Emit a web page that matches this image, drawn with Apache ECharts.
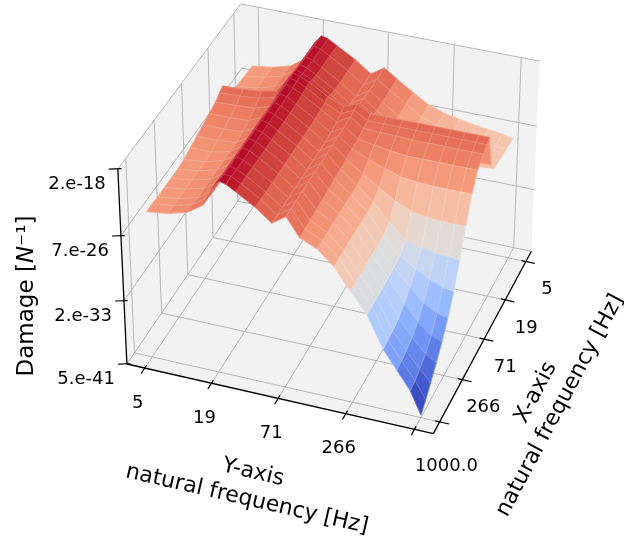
<!DOCTYPE html>
<html>
<head>
<meta charset="utf-8">
<script src="https://cdn.jsdelivr.net/npm/echarts@6/dist/echarts.min.js"></script>
<style>
  html, body { margin: 0; padding: 0; background: #fff; }
  #chart { width: 624px; height: 541px; }
</style>
</head>
<body>
<div id="chart"></div>
<script>
// ---- data ----
// grid of natural frequencies [Hz] (log spaced, denser around the ridges)
var xFreq = [5, 7.6, 11.7, 16, 19.8, 23.2, 27.2, 33.7, 46.3, 63.6, 87.4, 120, 165, 227, 312, 428, 589, 767, 1000];
var yFreq = [5, 7.6, 11.1, 15.2, 18.3, 20.9, 23.9, 28.7, 41.6, 57, 74.6, 97, 134, 184, 252, 347, 476, 621, 809, 1000];
// log10 of damage, one row per yFreq, one column per xFreq
var damageExp = [
  [-23.4, -23.3, -23.2, -23.1, -22.7, -21.0, -21.3, -21.7, -22.0, -22.3, -22.6, -22.9, -23.2, -23.3, -23.3, -23.3, -23.3, -23.2, -23.2],
  [-23.1, -23.0, -22.9, -22.8, -22.5, -20.9, -21.2, -21.6, -22.0, -22.3, -22.6, -22.9, -23.0, -23.0, -23.0, -23.0, -23.0, -22.9, -22.9],
  [-22.5, -22.4, -22.3, -22.2, -22.0, -20.7, -21.0, -21.5, -21.9, -22.2, -22.4, -22.4, -22.4, -22.4, -22.4, -22.4, -22.4, -22.3, -22.3],
  [-21.3, -21.2, -21.2, -21.1, -21.0, -20.3, -20.6, -20.9, -21.1, -21.2, -21.2, -21.2, -21.2, -21.2, -21.2, -21.2, -21.2, -21.1, -21.1],
  [-19.2, -19.2, -19.1, -19.1, -19.0, -18.9, -18.9, -19.0, -19.1, -19.1, -19.1, -19.1, -19.1, -19.1, -19.1, -19.1, -19.1, -19.0, -19.0],
  [-18.3, -18.2, -18.2, -18.1, -18.0, -17.9, -18.0, -18.0, -18.1, -18.1, -18.1, -18.1, -18.1, -18.1, -18.1, -18.1, -18.1, -18.1, -18.0],
  [-18.5, -18.4, -18.4, -18.3, -18.3, -18.1, -18.2, -18.3, -18.3, -18.3, -18.3, -18.3, -18.3, -18.3, -18.3, -18.3, -18.3, -18.2, -18.2],
  [-19.1, -19.0, -19.0, -18.9, -18.8, -18.6, -18.7, -18.8, -18.9, -18.9, -18.9, -18.9, -18.9, -18.9, -18.9, -18.9, -18.8, -18.8, -18.8],
  [-20.3, -20.3, -20.3, -20.2, -20.1, -19.8, -20.0, -20.1, -20.2, -20.2, -20.2, -20.2, -20.2, -20.2, -20.2, -20.2, -20.2, -20.1, -20.1],
  [-21.6, -21.6, -21.6, -21.5, -21.3, -20.6, -20.9, -21.2, -21.4, -21.5, -21.5, -21.5, -21.5, -21.5, -21.5, -21.5, -21.5, -21.5, -21.5],
  [-20.6, -20.6, -20.6, -20.5, -20.4, -20.0, -20.2, -20.3, -20.4, -20.4, -20.4, -20.4, -20.4, -20.4, -20.4, -20.4, -20.4, -20.4, -20.4],
  [-21.6, -21.6, -21.6, -21.6, -21.4, -20.8, -21.1, -21.3, -21.5, -21.6, -21.7, -21.8, -21.9, -22.0, -22.1, -22.2, -22.3, -22.4, -22.5],
  [-22.8, -22.8, -22.9, -22.9, -22.8, -20.8, -21.1, -21.4, -21.8, -22.4, -23.0, -23.3, -23.3, -23.3, -23.3, -23.3, -23.3, -23.3, -23.3],
  [-23.9, -24.0, -24.0, -24.0, -23.9, -20.8, -21.1, -21.4, -22.1, -23.1, -24.2, -24.8, -24.9, -24.9, -24.9, -24.9, -24.9, -24.9, -24.9],
  [-24.5, -24.6, -24.7, -24.7, -24.4, -20.8, -21.1, -21.5, -22.3, -23.7, -25.4, -26.8, -27.2, -27.3, -27.3, -27.3, -27.3, -27.3, -27.3],
  [-24.9, -25.0, -25.1, -25.1, -24.5, -20.8, -21.1, -21.5, -22.3, -23.9, -26.2, -28.4, -29.2, -29.4, -29.5, -29.6, -29.6, -29.6, -29.6],
  [-25.2, -25.3, -25.4, -25.4, -24.5, -20.8, -21.1, -21.5, -22.3, -24.0, -26.5, -29.0, -30.3, -31.3, -32.1, -32.7, -33.0, -33.1, -33.2],
  [-25.4, -25.5, -25.6, -25.6, -24.5, -20.8, -21.1, -21.5, -22.3, -24.0, -26.6, -29.2, -31.2, -32.8, -33.9, -34.6, -35.0, -35.2, -35.3],
  [-25.6, -25.7, -25.8, -25.7, -24.5, -20.8, -21.1, -21.5, -22.3, -24.0, -26.6, -29.3, -31.8, -33.7, -35.2, -36.2, -36.8, -37.2, -37.4],
  [-25.9, -25.8, -25.7, -25.6, -24.5, -20.8, -21.1, -21.5, -22.3, -24.0, -26.6, -29.4, -32.0, -34.0, -35.6, -37.0, -38.2, -39.2, -40.0]
];
var tickFreq = [5, 19, 71, 266, 1000];
var freqTickLabels = ['5', '19', '71', '266', '1000.0'];
var zTickExp = [-40.30, -32.74, -25.18, -17.62];
var zTickLabels = ['5.e-41', '2.e-33', '7.e-26', '2.e-18'];

// coolwarm colour map
var COOLWARM = ['#3b4cc0', '#4d68d7', '#6282ea', '#779af7', '#8db0fe', '#a3c2ff', '#b8d0f9', '#ccd9ee',
  '#dddddd', '#ecd3c5', '#f5c4ad', '#f7b194', '#f49a7b', '#ec7f63', '#de604d', '#cb3e38', '#b40426'];

var FONT = 'DejaVu Sans';

// ---- simple 3d camera (no echarts-gl available) ----
var CAM = { azim: 20 * Math.PI / 180, elev: 35 * Math.PI / 180, dist: 20, scale: 161, cx: 334, cy: 212 };
var BOX_Z = 0.73;     // half height of the box, floor is 1 x 1 half size
var MARGIN = 0.06;    // axis margin around the data
var LOG_LO = Math.log10(5), LOG_HI = Math.log10(1000);
var Z_LO = zTickExp[0], Z_HI = zTickExp[zTickExp.length - 1];

function freqToW(f) {
  var t = (Math.log10(f) - LOG_LO) / (LOG_HI - LOG_LO);
  return -1 + 2 * (MARGIN + (1 - 2 * MARGIN) * t);
}
function expToW(e) {
  return -BOX_Z + 2 * BOX_Z * (e - Z_LO) / (Z_HI - Z_LO);
}
function project(xw, yw, zw) {
  var sa = Math.sin(CAM.azim), ca = Math.cos(CAM.azim);
  var se = Math.sin(CAM.elev), ce = Math.cos(CAM.elev);
  var sx = -xw * sa + yw * ca;
  var h = xw * ca + yw * sa;
  var sy = zw * ce - h * se;
  var d = h * ce + zw * se;
  var f = CAM.dist / (CAM.dist - d);
  return { x: CAM.cx + CAM.scale * f * sx, y: CAM.cy - CAM.scale * f * sy, d: d };
}

// surface node -> screen
function node(r, c) {
  return project(freqToW(xFreq[c]), freqToW(yFreq[r]), expToW(damageExp[r][c]));
}

// cells coloured by their mean value, far ones first (painter's order)
var cells = [];
for (var r = 0; r < yFreq.length - 1; r++) {
  for (var c = 0; c < xFreq.length - 1; c++) {
    var zAvg = (damageExp[r][c] + damageExp[r + 1][c] + damageExp[r + 1][c + 1] + damageExp[r][c + 1]) / 4;
    var depth = (node(r, c).d + node(r + 1, c).d + node(r + 1, c + 1).d + node(r, c + 1).d) / 4;
    cells.push([r, c, zAvg, depth]);
  }
}
cells.sort(function (a, b) { return a[3] - b[3]; });
var cMin = Math.min.apply(null, cells.map(function (q) { return q[2]; }));
var cMax = Math.max.apply(null, cells.map(function (q) { return q[2]; }));

var chart = echarts.init(document.getElementById('chart'));

function pt(api, p) { return api.coord([p.x, p.y]); }

function line(api, a, b, color, width) {
  var p1 = pt(api, a), p2 = pt(api, b);
  return { type: 'line', shape: { x1: p1[0], y1: p1[1], x2: p2[0], y2: p2[1] },
    style: { stroke: color, lineWidth: width } };
}

function label(x, y, text, size, align, rot) {
  return { type: 'text', x: x, y: y, rotation: rot || 0,
    style: { text: text, fontFamily: FONT, fontSize: size, lineHeight: size * 1.25, fill: '#000',
      align: align || 'center', verticalAlign: 'middle' } };
}

// panes and grid lines
function renderBox(params, api) {
  var k = BOX_Z, kids = [];
  var panes = [
    [[-1, -1, -k], [1, -1, -k], [1, 1, -k], [-1, 1, -k]],
    [[-1, -1, -k], [1, -1, -k], [1, -1, k], [-1, -1, k]],
    [[-1, -1, -k], [-1, 1, -k], [-1, 1, k], [-1, -1, k]]
  ];
  panes.forEach(function (pn) {
    kids.push({ type: 'polygon',
      shape: { points: pn.map(function (q) { return pt(api, project(q[0], q[1], q[2])); }) },
      style: { fill: '#f2f2f2', stroke: null } });
  });
  var g = '#b0b0b0', lw = 0.9;
  tickFreq.forEach(function (f) {
    var w = freqToW(f);
    kids.push(line(api, project(w, -1, -k), project(w, 1, -k), g, lw));
    kids.push(line(api, project(-1, w, -k), project(1, w, -k), g, lw));
    kids.push(line(api, project(w, -1, -k), project(w, -1, k), g, lw));
    kids.push(line(api, project(-1, w, -k), project(-1, w, k), g, lw));
  });
  zTickExp.forEach(function (e) {
    var z = expToW(e);
    kids.push(line(api, project(-1, -1, z), project(1, -1, z), g, lw));
    kids.push(line(api, project(-1, -1, z), project(-1, 1, z), g, lw));
  });
  return { type: 'group', children: kids };
}

// axis lines, ticks and labels
function renderAxes(params, api) {
  var k = BOX_Z, kids = [], ink = '#000';
  kids.push(line(api, project(1, -1, -k), project(1, 1, -k), ink, 1.3));
  kids.push(line(api, project(1, 1, -k), project(-1, 1, -k), ink, 1.3));
  kids.push(line(api, project(1, -1, -k), project(1, -1, k), ink, 1.3));
  var last = tickFreq.length - 1;
  tickFreq.forEach(function (f, i) {
    var w = freqToW(f);
    kids.push(line(api, project(0.97, w, -k), project(1.06, w, -k), ink, 1.2));
    kids.push(line(api, project(w, 0.97, -k), project(w, 1.06, -k), ink, 1.2));
    if (i < last) {
      var py = pt(api, project(1, w, -k));
      kids.push(label(py[0] - 7, py[1] + 35, freqTickLabels[i], 18));
      var px = pt(api, project(w, 1, -k));
      kids.push(label(px[0] + 21, px[1] + 28, freqTickLabels[i], 18));
    }
  });
  // both axes end at 1000 Hz: one shared label under the front corner
  var corner = pt(api, project(1, 1, -k));
  kids.push(label(corner[0] + 13, corner[1] + 33, freqTickLabels[last], 18));

  zTickExp.forEach(function (e, i) {
    var z = expToW(e);
    kids.push(line(api, project(1.02, -1.05, z), project(0.99, -0.98, z), ink, 1.2));
    var pz = pt(api, project(1, -1, z));
    kids.push(label(pz[0] - 12, pz[1] + 15, zTickLabels[i], 18, 'right'));
  });
  // axis titles
  kids.push({ type: 'text', x: 27, y: 296, rotation: Math.PI / 2,
    style: { text: 'Damage [{i|N}⁻¹]', fontFamily: FONT, fontSize: 23, fill: '#000', align: 'center', verticalAlign: 'middle',
      rich: { i: { fontFamily: FONT, fontSize: 23, fontStyle: 'italic', fill: '#000' } } } });
  kids.push(label(250, 486, 'Y-axis\nnatural frequency [Hz]', 22, 'center', -13 * Math.PI / 180));
  kids.push(label(548, 399, 'X-axis\nnatural frequency [Hz]', 22, 'center', 62 * Math.PI / 180));
  return { type: 'group', children: kids };
}

function renderCell(params, api) {
  var r = api.value(0), c = api.value(1);
  var pts = [node(r, c), node(r + 1, c), node(r + 1, c + 1), node(r, c + 1)].map(function (p) { return pt(api, p); });
  var col = api.visual('color');
  return { type: 'group', children: [
    { type: 'polygon', shape: { points: pts }, style: { fill: col, stroke: col, lineWidth: 0.7 } },
    { type: 'polygon', shape: { points: pts }, style: { fill: null, stroke: 'rgba(255,255,255,0.25)', lineWidth: 0.6 } }
  ] };
}

var option = {
  animation: false,
  backgroundColor: '#ffffff',
  grid: { left: 0, right: 0, top: 0, bottom: 0 },
  xAxis: { type: 'value', min: 0, max: 624, show: false },
  yAxis: { type: 'value', min: 0, max: 541, inverse: true, show: false },
  visualMap: {
    type: 'continuous', show: false, seriesIndex: 2, dimension: 2,
    min: cMin, max: cMax, inRange: { color: COOLWARM }
  },
  series: [
    { type: 'custom', silent: true, renderItem: renderBox, data: [[0, 0]], z: 1 },
    { type: 'custom', silent: true, renderItem: renderAxes, data: [[0, 0]], z: 2 },
    { type: 'custom', silent: true, renderItem: renderCell, data: cells, z: 3,
      encode: { x: -1, y: -1 } }
  ]
};

chart.setOption(option);
</script>
</body>
</html>
